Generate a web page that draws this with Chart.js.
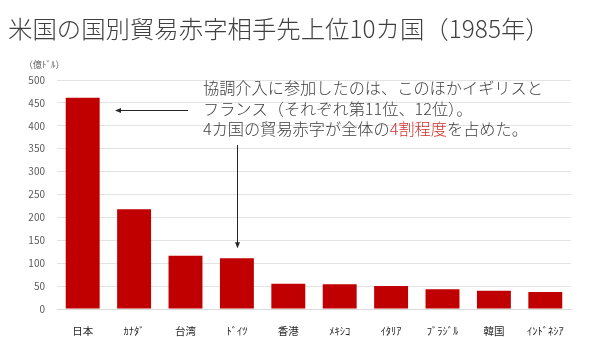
<!DOCTYPE html>
<html>
<head>
<meta charset="utf-8">
<script src="https://cdn.jsdelivr.net/npm/chart.js"></script>
<style>
  html, body { margin: 0; padding: 0; background: #fff; }
  #c { display: block; }
</style>
</head>
<body>
<canvas id="c" width="601" height="337"></canvas>
<script>
"use strict";
// 米国の国別貿易赤字相手先上位10カ国（1985年）
const countries = ['日本', 'ｶﾅﾀﾞ', '台湾', 'ﾄﾞｲﾂ', '香港', 'ﾒｷｼｺ', 'ｲﾀﾘｱ', 'ﾌﾞﾗｼﾞﾙ', '韓国', 'ｲﾝﾄﾞﾈｼｱ'];
const deficits = [461, 218, 116, 111, 55, 54, 50, 43, 40, 37];
const yMax = 500;
const yStep = 50;

const titleText = '米国の国別貿易赤字相手先上位10カ国（1985年）';
const unitText = '（億ﾄﾞﾙ）';
const noteLines = [
  [['協調介入に参加したのは、このほかイギリスと', '#404040']],
  [['フランス（それぞれ第11位、12位）。', '#404040']],
  [['4カ国の貿易赤字が全体の', '#404040'], ['4割程度', '#d0312d'], ['を占めた。', '#404040']]
];

const FONT = '"Noto Sans CJK JP", "Noto Sans", sans-serif';

// タイトル・注記・矢印の描画
const overlay = {
  id: 'overlay',
  afterDraw(chart) {
    const ctx = chart.ctx;
    const x = chart.scales.x, y = chart.scales.y;
    ctx.save();
    ctx.textBaseline = 'middle';
    ctx.textAlign = 'left';

    ctx.fillStyle = '#404040';
    ctx.font = '300 24.4px ' + FONT;
    ctx.fillText(titleText, 8, 29);

    ctx.fillStyle = '#595959';
    ctx.font = '9px ' + FONT;
    ctx.fillText(unitText, 24, 65);

    ctx.font = '300 16.2px ' + FONT;
    noteLines.forEach((line, i) => {
      let px = 203;
      const py = 88 + i * 20.5;
      line.forEach(([t, col]) => {
        ctx.fillStyle = col;
        ctx.fillText(t, px, py);
        px += ctx.measureText(t).width;
      });
    });

    ctx.strokeStyle = '#262626';
    ctx.fillStyle = '#262626';
    ctx.lineWidth = 1;
    // 日本への矢印
    const ay = 110.5;
    const ax = 116;
    ctx.beginPath();
    ctx.moveTo(188, ay);
    ctx.lineTo(ax, ay);
    ctx.stroke();
    ctx.beginPath();
    ctx.moveTo(ax - 1, ay);
    ctx.lineTo(ax + 5, ay - 2.5);
    ctx.lineTo(ax + 5, ay + 2.5);
    ctx.closePath();
    ctx.fill();
    // ドイツへの矢印
    const gx = Math.round(x.getPixelForValue(3)) + 0.5;
    const gy = y.getPixelForValue(deficits[3]) - 11;
    ctx.beginPath();
    ctx.moveTo(gx, 145);
    ctx.lineTo(gx, gy);
    ctx.stroke();
    ctx.beginPath();
    ctx.moveTo(gx, gy + 1);
    ctx.lineTo(gx - 2.5, gy - 5);
    ctx.lineTo(gx + 2.5, gy - 5);
    ctx.closePath();
    ctx.fill();
    ctx.restore();
  }
};

new Chart(document.getElementById('c').getContext('2d'), {
  type: 'bar',
  data: {
    labels: countries,
    datasets: [{
      data: deficits,
      backgroundColor: '#c00000',
      categoryPercentage: 1,
      barPercentage: 0.66
    }]
  },
  options: {
    responsive: false,
    animation: false,
    layout: { padding: { top: 80, right: 30, bottom: 0, left: 0 } },
    plugins: {
      legend: { display: false },
      tooltip: { enabled: false }
    },
    scales: {
      x: {
        grid: { display: false },
        border: { display: true, color: '#d9d9d9' },
        ticks: { color: '#262626', font: { family: FONT, size: 10.5 }, padding: 8, maxRotation: 0 },
        afterFit: (s) => { s.height = 28; }
      },
      y: {
        min: 0,
        max: yMax,
        grid: { color: '#e3e3e3', drawTicks: false },
        border: { display: false },
        ticks: { stepSize: yStep, color: '#595959', font: { family: FONT, size: 10 }, padding: 12 },
        afterFit: (s) => { s.width = 57; }
      }
    }
  },
  plugins: [overlay]
});
</script>
</body>
</html>
